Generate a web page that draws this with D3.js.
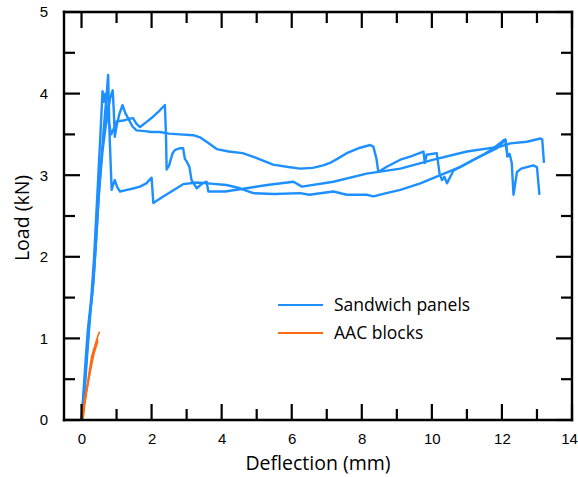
<!DOCTYPE html>
<html><head><meta charset="utf-8">
<script src="https://cdn.jsdelivr.net/npm/d3@7"></script>
<style>
html,body{margin:0;padding:0;background:#fff;}
svg{display:block;}
.tick text{font-family:"Liberation Sans",Arial,sans-serif;font-size:15px;fill:#000;}
</style></head>
<body>
<svg id="chart" width="578" height="477" xmlns="http://www.w3.org/2000/svg"></svg>
<script>
// ---- data ----
const xTicksMajor = [0,2,4,6,8,10,12,14];
const xTicksMinor = [1,3,5,7,9,11,13];
const yTicksMajor = [0,1,2,3,4,5];
const yTicksMinor = [0.5,1.5,2.5,3.5,4.5];
const seriesNames = ["Sandwich panels","AAC blocks"];

const sandwich1X = [0.02,0.08,0.17,0.25,0.35,0.43,0.5,0.6,0.72,0.82,0.89,0.92,0.95,1.0,1.08,1.17,1.25,1.33,1.45,1.57,1.8,2.0,2.24,2.5,2.8,3.19,3.4,3.6,3.86,4.2,4.6,5.0,5.47,5.9,6.24,6.6,6.9,7.09,7.3,7.57,7.9,8.24,8.33,8.42,8.47,8.7,9.1,9.4,9.76,9.8,9.85,10.14,10.22,10.29,10.36,10.43,10.62,10.9,11.19,11.5,11.76,12.0,12.05,12.1,12.16,12.22,12.28,12.33,12.43,12.55,12.9,13.0,13.07];
const sandwich1Y = [0,0.3,0.85,1.3,1.75,2.3,2.8,3.3,3.7,3.95,4.04,3.8,3.47,3.6,3.75,3.86,3.76,3.7,3.6,3.55,3.54,3.53,3.53,3.51,3.5,3.49,3.46,3.4,3.32,3.29,3.27,3.21,3.13,3.1,3.08,3.09,3.12,3.15,3.2,3.27,3.33,3.37,3.35,3.2,3.04,3.1,3.19,3.23,3.29,3.15,3.25,3.27,3.02,2.94,2.98,2.9,3.06,3.12,3.19,3.26,3.33,3.41,3.43,3.42,3.23,3.26,3.15,2.76,3.04,3.08,3.12,3.1,2.76];

const sandwich2X = [0,0.05,0.12,0.18,0.28,0.36,0.42,0.48,0.54,0.6,0.64,0.68,0.75,0.85,0.95,1.0,1.2,1.35,1.47,1.57,1.67,1.85,2.05,2.2,2.38,2.41,2.43,2.5,2.6,2.67,2.8,2.9,2.95,3.0,3.08,3.14,3.29,3.45,3.57,3.62,4.1,4.71,5.3,6.05,6.29,7.19,8.14,9.1,10.05,11.0,11.95,12.24,12.71,13.1,13.15,13.2];
const sandwich2Y = [0,0.3,0.75,1.1,1.5,2.0,2.5,3.0,3.5,4.03,3.9,4.0,3.7,3.5,3.6,3.66,3.67,3.69,3.7,3.63,3.59,3.65,3.72,3.78,3.86,3.5,3.07,3.12,3.27,3.31,3.33,3.33,3.2,3.17,3.1,2.94,2.84,2.9,2.92,2.8,2.8,2.84,2.88,2.92,2.86,2.92,3.02,3.08,3.19,3.29,3.35,3.39,3.41,3.45,3.44,3.15];

const sandwich3X = [0,0.07,0.15,0.22,0.32,0.4,0.47,0.55,0.64,0.72,0.76,0.8,0.86,0.9,0.95,1.02,1.1,1.3,1.5,1.67,1.85,2.0,2.05,2.3,2.6,2.9,3.29,3.6,4.14,4.52,4.9,5.5,6.24,6.5,7.19,7.57,8.14,8.33,8.7,9.1,9.67,10.24,10.8,11.38,11.86,12.0,12.1,12.14,12.16];
const sandwich3Y = [0,0.35,0.8,1.2,1.6,2.1,2.6,3.1,3.6,4.0,4.23,3.5,2.82,2.88,2.94,2.85,2.8,2.82,2.84,2.86,2.9,2.97,2.66,2.73,2.81,2.89,2.91,2.9,2.88,2.84,2.78,2.77,2.78,2.76,2.8,2.76,2.76,2.74,2.78,2.82,2.9,3.0,3.1,3.23,3.33,3.39,3.44,3.3,3.22];

const aac1X = [0,0.05,0.1,0.17,0.23,0.29,0.36,0.43,0.5,0.52];
const aac1Y = [0,0.12,0.28,0.45,0.62,0.78,0.88,0.98,1.07,1.08];
const aac2X = [0.02,0.06,0.12,0.2,0.27,0.33,0.4,0.46];
const aac2Y = [0,0.15,0.3,0.5,0.67,0.8,0.92,1.0];
const aac3X = [0.05,0.09,0.15,0.22,0.29,0.36,0.42,0.47];
const aac3Y = [0.03,0.18,0.35,0.52,0.68,0.82,0.9,0.97];

// ---- drawing ----
const svg = d3.select("#chart");
const L=64,R=572,T=12,B=420;
const x = d3.scaleLinear().domain([-0.5,14]).range([L,R]);
const y = d3.scaleLinear().domain([0,5]).range([B,T]);
const blue="#1e8fff", orange="#ff6a13";

const zip=(xs,ys)=>xs.map((v,i)=>[v,ys[i]]);
const line=d3.line().x(d=>x(d[0])).y(d=>y(d[1]));

[[sandwich1X,sandwich1Y],[sandwich2X,sandwich2Y],[sandwich3X,sandwich3Y]].forEach(([a,b])=>{
  svg.append("path").attr("d",line(zip(a,b))).attr("fill","none").attr("stroke",blue).attr("stroke-width",2.4).attr("stroke-linejoin","round");
});
[[aac1X,aac1Y],[aac2X,aac2Y],[aac3X,aac3Y]].forEach(([a,b])=>{
  svg.append("path").attr("d",line(zip(a,b))).attr("fill","none").attr("stroke",orange).attr("stroke-width",1.6).attr("stroke-linejoin","round");
});

// frame: four explicit lines
[[L,T,R,T],[R,T,R,B],[R,B,L,B],[L,B,L,T]].forEach(([a,b,c,d])=>{
  svg.append("line").attr("x1",a).attr("y1",b).attr("x2",c).attr("y2",d)
    .attr("stroke","#000").attr("stroke-width",2.4).attr("stroke-linecap","square");
});

// tick marks, inward on all four sides, each an explicit line
xTicksMajor.concat(xTicksMinor).forEach(v=>{
  const len = xTicksMajor.includes(v) ? 16 : 11;
  const px = x(v);
  svg.append("line").attr("x1",px).attr("x2",px).attr("y1",B).attr("y2",B-len)
    .attr("stroke","#000").attr("stroke-width",2.2);
  svg.append("line").attr("x1",px).attr("x2",px).attr("y1",T).attr("y2",T+len)
    .attr("stroke","#000").attr("stroke-width",2.2);
});
yTicksMajor.concat(yTicksMinor).forEach(v=>{
  const len = yTicksMajor.includes(v) ? 16 : 11;
  const py = y(v);
  svg.append("line").attr("x1",L).attr("x2",L+len).attr("y1",py).attr("y2",py)
    .attr("stroke","#000").attr("stroke-width",2.2);
  svg.append("line").attr("x1",R).attr("x2",R-len).attr("y1",py).attr("y2",py)
    .attr("stroke","#000").attr("stroke-width",2.2);
});

// tick labels via d3 axes
function styleAxis(sel){
  sel.select(".domain").remove();
  sel.selectAll(".tick line").remove();
}
svg.append("g").attr("transform",`translate(0,${B})`)
  .call(d3.axisBottom(x).tickValues(xTicksMajor).tickSize(0).tickPadding(13).tickFormat(d3.format("d"))).call(styleAxis)
  .selectAll(".tick text").filter(d=>d===14).attr("dx",-3);
svg.append("g").attr("transform",`translate(${L},0)`)
  .call(d3.axisLeft(y).tickValues(yTicksMajor).tickSize(0).tickPadding(16).tickFormat(d3.format("d"))).call(styleAxis);

// titles
const titleFont='"Open Sans","Noto Sans",sans-serif';
svg.append("text").attr("x",(L+R)/2).attr("y",470).attr("text-anchor","middle")
  .attr("font-family",titleFont).attr("font-size",19.5).text("Deflection (mm)");
svg.append("text").attr("transform",`translate(29,218) rotate(-90)`).attr("text-anchor","middle")
  .attr("font-family",titleFont).attr("font-size",19.5).text("Load (kN)");

// legend
[blue,orange].forEach((c,i)=>{
  const yy=305+i*28;
  svg.append("line").attr("x1",278).attr("x2",323).attr("y1",yy).attr("y2",yy).attr("stroke",c).attr("stroke-width",2);
  svg.append("text").attr("x",334).attr("y",yy+6).attr("font-family",titleFont).attr("font-size",17.5).text(seriesNames[i]);
});
</script>
</body></html>
